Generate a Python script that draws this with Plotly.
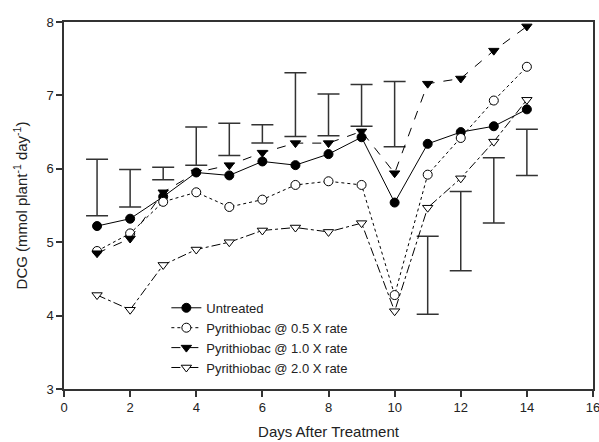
import plotly.graph_objects as go

days = [1, 2, 3, 4, 5, 6, 7, 8, 9, 10, 11, 12, 13, 14]
untreated = [5.22, 5.32, 5.62, 5.95, 5.91, 6.10, 6.05, 6.20, 6.43, 5.54, 6.34, 6.50, 6.58, 6.81]
rate_05 = [4.88, 5.12, 5.55, 5.68, 5.48, 5.58, 5.78, 5.83, 5.78, 4.28, 5.92, 6.42, 6.93, 7.39]
rate_10 = [4.85, 5.05, 5.68, 5.95, 6.05, 6.22, 6.35, 6.35, 6.51, 5.94, 7.16, 7.23, 7.61, 7.94]
rate_20 = [4.28, 4.08, 4.69, 4.90, 5.00, 5.16, 5.20, 5.14, 5.26, 4.06, 5.47, 5.87, 6.37, 6.94]
bar_top = [6.13, 5.99, 6.02, 6.57, 6.62, 6.60, 7.31, 7.02, 7.15, 7.19, 5.08, 5.69, 6.15, 6.54]
bar_bottom = [5.36, 5.48, 5.85, 6.05, 6.18, 6.35, 6.44, 6.45, 6.58, 6.30, 4.02, 4.61, 5.26, 5.91]
x_ticks = [0, 2, 4, 6, 8, 10, 12, 14, 16]
y_ticks = [3, 4, 5, 6, 7, 8]

bar_mid = [(t + b) / 2 for t, b in zip(bar_top, bar_bottom)]
bar_half = [(t - b) / 2 for t, b in zip(bar_top, bar_bottom)]

fig = go.Figure()

fig.add_trace(go.Scatter(
    x=days, y=bar_mid, mode="markers", showlegend=False, hoverinfo="skip",
    marker=dict(size=1, opacity=0),
    error_y=dict(type="data", array=bar_half, symmetric=True, width=11,
                 thickness=1.5, color="#333333"),
))

series = [
    ("Untreated", untreated, "solid", "circle", "black"),
    ("Pyrithiobac @ 0.5 X rate", rate_05, "dot", "circle", "white"),
    ("Pyrithiobac @ 1.0 X rate", rate_10, "dash", "triangle-down", "black"),
    ("Pyrithiobac @ 2.0 X rate", rate_20, "dashdot", "triangle-down", "white"),
]
for name, vals, dash, sym, fill in series:
    fig.add_trace(go.Scatter(
        x=days, y=vals, name=name, mode="lines+markers",
        line=dict(color="black", width=1, dash=dash),
        marker=dict(symbol=sym, size=9, color=fill,
                    line=dict(color="black", width=1)),
    ))

axis_common = dict(
    showgrid=False, zeroline=False, showline=True, linecolor="#333333",
    linewidth=1.5, mirror=True, ticks="outside", ticklen=6, tickwidth=1.5,
    tickcolor="#333333", automargin=False, ticklabeloverflow="allow",
    tickfont=dict(family="Liberation Sans, Arial", size=13, color="#222"),
)

fig.update_layout(
    width=599, height=442,
    margin=dict(l=64, r=6, t=22, b=53),
    plot_bgcolor="white", paper_bgcolor="white",
    font=dict(family="Liberation Sans, Arial", color="#222"),
    xaxis=dict(range=[0, 16], tickvals=x_ticks,
               title=dict(text="Days After Treatment", font=dict(size=15), standoff=12),
               **axis_common),
    yaxis=dict(range=[3, 8], tickvals=y_ticks,
               title=dict(text="DCG (mmol plant<sup>-1</sup> day<sup>-1</sup>)", font=dict(size=15), standoff=15),
               **axis_common),
    legend=dict(x=0.1935, y=0.262, xanchor="left", yanchor="top",
                bgcolor="rgba(0,0,0,0)", font=dict(size=13, color="#222"),
                tracegroupgap=0, itemwidth=30),
)

fig.write_html("out.html", config={"displayModeBar": False},
               post_script="document.body.style.margin='0';")
